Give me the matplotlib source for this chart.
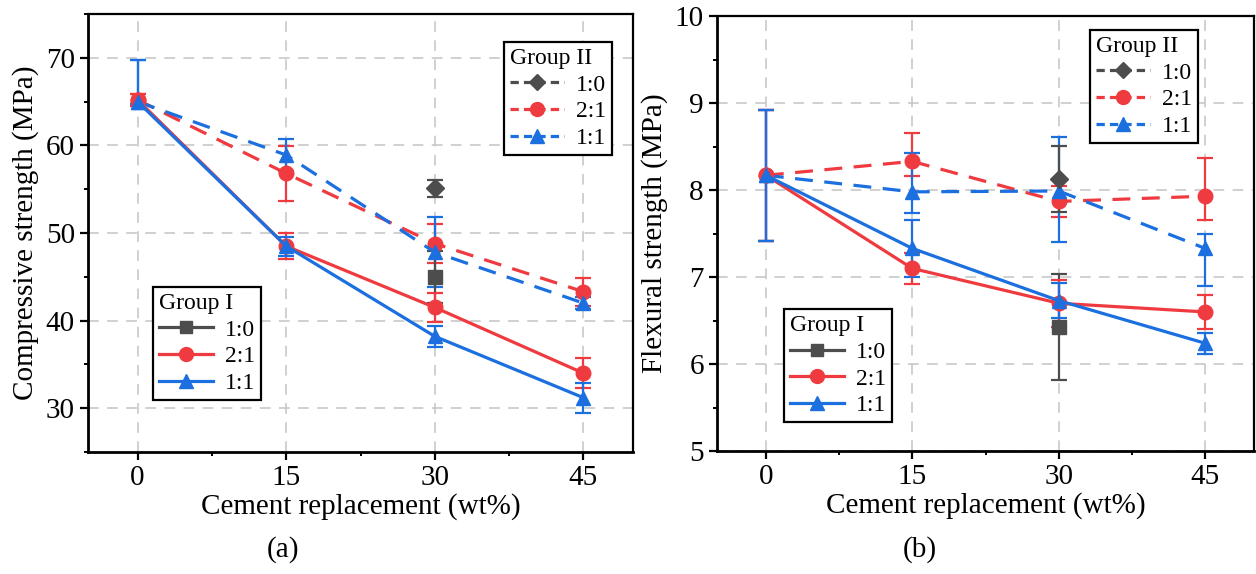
import matplotlib
matplotlib.use('Agg')
import matplotlib.pyplot as plt
from matplotlib.lines import Line2D
from matplotlib.ticker import MultipleLocator

plt.rcParams['font.family'] = ['Liberation Serif', 'DejaVu Serif']
plt.rcParams['font.size'] = 21

# replacement levels (wt%)
x = [0, 15, 30, 45]
x_single = [30]

# compressive strength (MPa), panel (a)
comp_g1_21 = [65.2, 48.5, 41.5, 34.0]
comp_g1_21_err = [0.7, 1.5, 1.7, 1.7]
comp_g1_11 = [65.0, 48.5, 38.2, 31.2]
comp_g1_11_lo = [0.3, 1.1, 1.2, 1.7]
comp_g1_11_hi = [4.7, 1.1, 1.2, 1.7]
comp_g1_10 = [45.0]
comp_g1_10_err = [3.0]
comp_g2_10 = [55.1]
comp_g2_10_err = [1.0]
comp_g2_21 = [65.2, 56.8, 48.8, 43.3]
comp_g2_21_err = [0.7, 3.1, 2.2, 1.6]
comp_g2_11 = [65.0, 58.9, 47.8, 42.0]
comp_g2_11_lo = [0.3, 1.8, 4.0, 0.7]
comp_g2_11_hi = [4.7, 1.8, 4.0, 0.7]

# flexural strength (MPa), panel (b)
flex_g1_21 = [8.17, 7.10, 6.70, 6.60]
flex_g1_21_err = [0.75, 0.18, 0.27, 0.20]
flex_g1_11 = [8.17, 7.33, 6.73, 6.24]
flex_g1_11_err = [0.75, 0.33, 0.20, 0.12]
flex_g1_10 = [6.43]
flex_g1_10_err = [0.61]
flex_g2_10 = [8.13]
flex_g2_10_err = [0.38]
flex_g2_21 = [8.17, 8.33, 7.87, 7.93]
flex_g2_21_lo = [0.75, 0.17, 0.18, 0.27]
flex_g2_21_hi = [0.75, 0.33, 0.18, 0.44]
flex_g2_11 = [8.17, 7.98, 7.99, 7.33]
flex_g2_11_lo = [0.75, 0.24, 0.59, 0.43]
flex_g2_11_hi = [0.75, 0.45, 0.62, 0.16]

gray = '#4d4d4d'
red = '#ef3b40'
blue = '#1b6fdf'
LW = 2.3
DASH = (5.6, 3.6)


def series(ax, xs, ys, yerr, color, marker, ls):
    ax.errorbar(xs, ys, yerr=yerr, color=color, ls=ls, lw=LW, marker=marker,
                ms=10.5 if marker != 'D' else 9, capsize=6, capthick=1.6, elinewidth=1.6,
                dashes=DASH if ls == '--' else (None, None))


def style(ax, ylim, ymaj, ymin, ylabel):
    ax.set_xlim(-5, 50)
    ax.set_ylim(*ylim)
    ax.xaxis.set_major_locator(MultipleLocator(15))
    ax.xaxis.set_minor_locator(MultipleLocator(7.5))
    ax.yaxis.set_major_locator(MultipleLocator(ymaj))
    ax.yaxis.set_minor_locator(MultipleLocator(ymin))
    ax.grid(True, which='major', color='#c4c4c4', ls=(0, (7, 5.5)), lw=1.1)
    ax.set_axisbelow(True)
    ax.tick_params(which='major', direction='out', length=6, width=1.6, labelsize=21)
    ax.tick_params(which='minor', direction='out', length=3, width=1.4)
    for s in ['left', 'bottom']:
        ax.spines[s].set_linewidth(2.0)
    for s in ['top', 'right']:
        ax.spines[s].set_linewidth(1.6)
    ax.set_xlabel('Cement replacement (wt%)', fontsize=21, labelpad=1)
    ax.set_ylabel(ylabel, fontsize=21, labelpad=5)


def legends(ax, pos1, pos2):
    h1 = [Line2D([], [], color=gray, marker='s', ms=9, lw=LW),
          Line2D([], [], color=red, marker='o', ms=10, lw=LW),
          Line2D([], [], color=blue, marker='^', ms=10, lw=LW)]
    h2 = [Line2D([], [], color=gray, marker='D', ms=8, lw=LW, ls='--', dashes=(2.6, 1.6)),
          Line2D([], [], color=red, marker='o', ms=10, lw=LW, ls='--', dashes=(2.6, 1.6)),
          Line2D([], [], color=blue, marker='^', ms=10, lw=LW, ls='--', dashes=(2.6, 1.6))]
    labels = ['1:0', '2:1', '1:1']
    kw = dict(fontsize=17, title_fontsize=17, frameon=True, fancybox=False,
              edgecolor='black', framealpha=1, loc='upper left', borderaxespad=0,
              handlelength=2.3, handletextpad=0.5, borderpad=0.25, labelspacing=0.22,
              alignment='left')
    l1 = ax.legend(h1, labels, title='Group I', bbox_to_anchor=pos1, **kw)
    l1.get_frame().set_linewidth(1.6)
    ax.add_artist(l1)
    l2 = ax.legend(h2, labels, title='Group II', bbox_to_anchor=pos2, **kw)
    l2.get_frame().set_linewidth(1.6)


fig = plt.figure(figsize=(12.56, 5.74), dpi=100)
ax1 = fig.add_axes([0.0701, 0.2125, 0.4339, 0.7631])
ax2 = fig.add_axes([0.5709, 0.2140, 0.4275, 0.7580])

# panel (a)
series(ax1, x, comp_g2_21, comp_g2_21_err, red, 'o', '--')
series(ax1, x, comp_g2_11, [comp_g2_11_lo, comp_g2_11_hi], blue, '^', '--')
series(ax1, x_single, comp_g2_10, comp_g2_10_err, gray, 'D', '--')
series(ax1, x_single, comp_g1_10, comp_g1_10_err, gray, 's', '-')
series(ax1, x, comp_g1_21, comp_g1_21_err, red, 'o', '-')
series(ax1, x, comp_g1_11, [comp_g1_11_lo, comp_g1_11_hi], blue, '^', '-')
style(ax1, (25, 75), 10, 5, 'Compressive strength (MPa)')
legends(ax1, (0.119, 0.377), (0.763, 0.936))

# panel (b)
series(ax2, x, flex_g2_21, [flex_g2_21_lo, flex_g2_21_hi], red, 'o', '--')
series(ax2, x, flex_g2_11, [flex_g2_11_lo, flex_g2_11_hi], blue, '^', '--')
series(ax2, x_single, flex_g2_10, flex_g2_10_err, gray, 'D', '--')
series(ax2, x_single, flex_g1_10, flex_g1_10_err, gray, 's', '-')
series(ax2, x, flex_g1_21, flex_g1_21_err, red, 'o', '-')
series(ax2, x, flex_g1_11, flex_g1_11_err, blue, '^', '-')
style(ax2, (5, 10), 1, 0.5, 'Flexural strength (MPa)')
legends(ax2, (0.124, 0.326), (0.695, 0.968))

fig.text(283 / 1256, 1 - 550 / 574, '(a)', ha='center', va='center', fontsize=21)
fig.text(920 / 1256, 1 - 550 / 574, '(b)', ha='center', va='center', fontsize=21)

fig.savefig('out.png', dpi=100)
